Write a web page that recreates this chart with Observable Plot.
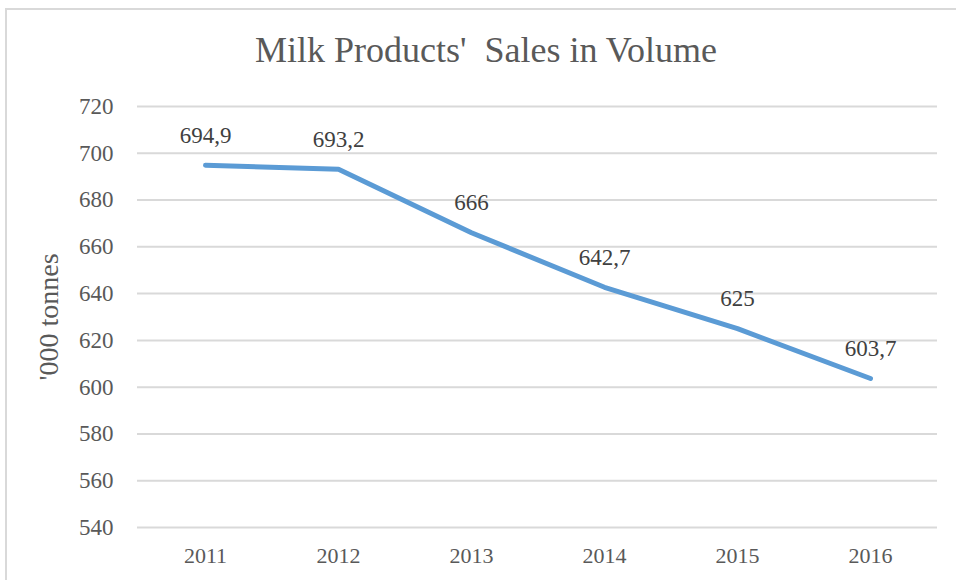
<!DOCTYPE html>
<html>
<head>
<meta charset="utf-8">
<script src="https://cdn.jsdelivr.net/npm/d3@7"></script>
<script src="https://cdn.jsdelivr.net/npm/@observablehq/plot@0.6"></script>
<style>
  html, body { margin: 0; padding: 0; background: #fff; width: 956px; height: 580px; overflow: hidden; }
  #frame { position: absolute; left: 5px; top: 8px; width: 1000px; height: 620px;
           border-top: 2px solid #d9d9d9; border-left: 2px solid #d9d9d9; }
  #title { position: absolute; left: 0; top: 31px; width: 972px; text-align: center; line-height: 1.1;
           font-family: "Liberation Serif", "Times New Roman", Times, serif; font-size: 36px; color: #595959; white-space: pre; }
  #chart { position: absolute; left: 0; top: 90px; }
  #chart svg text { font-family: "Liberation Serif", "Times New Roman", Times, serif; }
</style>
</head>
<body>
<div id="frame"></div>
<div id="title">Milk Products'  Sales in Volume</div>
<div id="chart"></div>
<script>
const years = ["2011", "2012", "2013", "2014", "2015", "2016"];
const volumes = [694.9, 693.2, 666, 642.7, 625, 603.7];
const volumeLabels = ["694,9", "693,2", "666", "642,7", "625", "603,7"];
const yTicks = [540, 560, 580, 600, 620, 640, 660, 680, 700, 720];

const data = years.map((y, i) => ({year: y, value: volumes[i], label: volumeLabels[i]}));
const serif = "Liberation Serif";

const plot = Plot.plot({
  width: 956,
  height: 490,
  marginTop: 16,
  marginBottom: 53,
  marginLeft: 137,
  marginRight: 19,
  style: {fontFamily: "'Liberation Serif', 'Times New Roman', Times, serif", background: "transparent"},
  x: {type: "point", domain: years, padding: 0.5, label: null},
  y: {domain: [540, 720], ticks: yTicks, label: null},
  marks: [
    Plot.gridY(yTicks, {stroke: "#d9d9d9", strokeWidth: 2, strokeOpacity: 1}),
    Plot.axisY(yTicks, {tickSize: 0, tickPadding: 24, fontSize: 23, fontFamily: serif, fill: "#595959", label: null}),
    Plot.axisX({tickSize: 0, tickPadding: 20, fontSize: 22, fontFamily: serif, fill: "#595959", label: null}),
    Plot.text(["'000 tonnes"], {frameAnchor: "left", dx: -88, rotate: -90, fontSize: 28, fontFamily: serif, fill: "#595959", textAnchor: "middle"}),
    Plot.line(data, {x: "year", y: "value", stroke: "#5b9bd5", strokeWidth: 5, strokeLinecap: "round", strokeLinejoin: "round"}),
    Plot.text(data, {x: "year", y: "value", text: "label", dy: -30, fontSize: 23, fontFamily: serif, fill: "#404040"})
  ]
});
document.getElementById("chart").appendChild(plot);
</script>
</body>
</html>
